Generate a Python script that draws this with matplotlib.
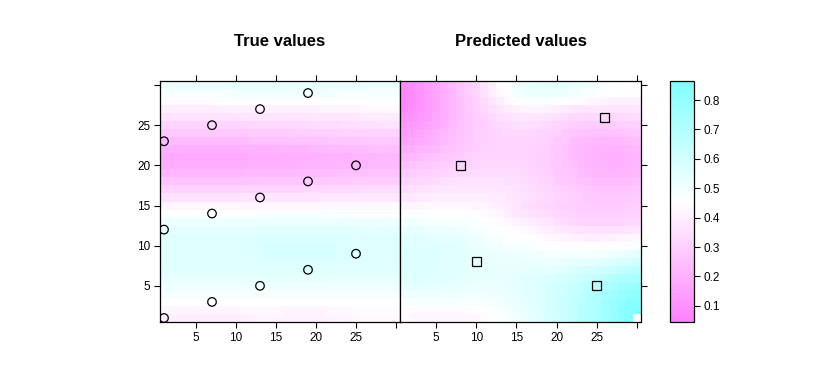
import numpy as np
import matplotlib
matplotlib.use("Agg")
import matplotlib.pyplot as plt
from matplotlib.colors import LinearSegmentedColormap

plt.rcParams['font.family'] = ['Liberation Sans', 'DejaVu Sans']

# grid cells 1..30 in x and y
grid_x = np.arange(1, 31)
grid_y = np.arange(1, 31)

# true values, rows listed from y=30 (top) down to y=1
true_rows = [
    [0.52,0.52,0.52,0.52,0.52,0.52,0.52,0.52,0.53,0.53,0.53,0.53,0.53,0.53,0.53,0.53,0.53,0.53,0.53,0.53,0.53,0.52,0.52,0.52,0.52,0.52,0.51,0.51,0.51,0.51],
    [0.49,0.49,0.49,0.49,0.49,0.49,0.49,0.49,0.49,0.50,0.50,0.50,0.50,0.50,0.50,0.50,0.50,0.50,0.50,0.50,0.50,0.50,0.49,0.49,0.49,0.49,0.49,0.49,0.49,0.49],
    [0.44,0.44,0.44,0.44,0.44,0.44,0.44,0.45,0.45,0.45,0.45,0.45,0.45,0.45,0.45,0.45,0.45,0.45,0.45,0.45,0.46,0.46,0.46,0.46,0.46,0.46,0.47,0.47,0.47,0.47],
    [0.40,0.40,0.40,0.40,0.40,0.40,0.40,0.40,0.40,0.41,0.41,0.41,0.41,0.41,0.41,0.41,0.41,0.41,0.41,0.41,0.42,0.42,0.42,0.42,0.42,0.43,0.43,0.43,0.43,0.43],
    [0.36,0.36,0.36,0.36,0.36,0.36,0.36,0.36,0.36,0.36,0.37,0.37,0.37,0.37,0.37,0.37,0.37,0.37,0.37,0.38,0.38,0.38,0.38,0.38,0.38,0.39,0.39,0.39,0.39,0.39],
    [0.32,0.32,0.32,0.32,0.32,0.32,0.32,0.32,0.32,0.32,0.32,0.33,0.33,0.33,0.33,0.33,0.33,0.33,0.34,0.34,0.34,0.34,0.34,0.35,0.35,0.35,0.35,0.36,0.36,0.36],
    [0.28,0.28,0.28,0.28,0.28,0.28,0.28,0.28,0.28,0.28,0.28,0.29,0.29,0.29,0.29,0.29,0.29,0.30,0.30,0.30,0.30,0.30,0.31,0.31,0.31,0.31,0.32,0.32,0.32,0.32],
    [0.24,0.24,0.24,0.24,0.24,0.24,0.24,0.24,0.24,0.24,0.24,0.25,0.25,0.25,0.25,0.25,0.26,0.26,0.26,0.26,0.26,0.27,0.27,0.27,0.27,0.28,0.28,0.28,0.28,0.28],
    [0.20,0.20,0.20,0.20,0.20,0.20,0.20,0.20,0.20,0.20,0.20,0.21,0.21,0.21,0.21,0.22,0.22,0.22,0.22,0.23,0.23,0.23,0.23,0.24,0.24,0.24,0.25,0.25,0.25,0.25],
    [0.18,0.18,0.18,0.18,0.18,0.18,0.18,0.18,0.18,0.18,0.18,0.19,0.19,0.19,0.19,0.19,0.20,0.20,0.20,0.20,0.21,0.21,0.21,0.21,0.22,0.22,0.22,0.23,0.23,0.23],
    [0.19,0.19,0.19,0.19,0.19,0.19,0.19,0.19,0.19,0.19,0.19,0.20,0.20,0.20,0.20,0.20,0.20,0.21,0.21,0.21,0.21,0.21,0.22,0.22,0.22,0.22,0.23,0.23,0.23,0.23],
    [0.22,0.22,0.22,0.22,0.22,0.22,0.22,0.22,0.22,0.22,0.22,0.23,0.23,0.23,0.23,0.23,0.23,0.24,0.24,0.24,0.24,0.24,0.25,0.25,0.25,0.25,0.26,0.26,0.26,0.26],
    [0.26,0.26,0.26,0.26,0.26,0.26,0.26,0.26,0.26,0.26,0.26,0.27,0.27,0.27,0.27,0.27,0.27,0.27,0.28,0.28,0.28,0.28,0.28,0.28,0.29,0.29,0.29,0.29,0.29,0.29],
    [0.31,0.31,0.31,0.31,0.31,0.31,0.31,0.31,0.31,0.31,0.32,0.32,0.32,0.32,0.32,0.32,0.32,0.32,0.33,0.33,0.33,0.33,0.33,0.33,0.33,0.34,0.34,0.34,0.34,0.34],
    [0.36,0.36,0.36,0.36,0.36,0.36,0.36,0.36,0.36,0.36,0.37,0.37,0.37,0.37,0.37,0.37,0.37,0.37,0.37,0.37,0.38,0.38,0.38,0.38,0.38,0.38,0.38,0.38,0.38,0.38],
    [0.42,0.42,0.42,0.42,0.42,0.42,0.42,0.42,0.42,0.42,0.42,0.42,0.42,0.42,0.42,0.42,0.42,0.42,0.42,0.42,0.43,0.43,0.43,0.43,0.43,0.43,0.43,0.43,0.43,0.43],
    [0.47,0.47,0.47,0.47,0.47,0.47,0.47,0.47,0.47,0.47,0.47,0.47,0.48,0.48,0.48,0.48,0.48,0.48,0.48,0.48,0.48,0.48,0.47,0.47,0.47,0.47,0.47,0.47,0.47,0.47],
    [0.51,0.51,0.51,0.51,0.51,0.51,0.51,0.51,0.51,0.51,0.51,0.51,0.52,0.52,0.52,0.52,0.52,0.52,0.52,0.52,0.52,0.52,0.52,0.51,0.51,0.51,0.51,0.51,0.51,0.51],
    [0.54,0.54,0.54,0.54,0.54,0.54,0.54,0.54,0.54,0.54,0.54,0.54,0.55,0.55,0.55,0.55,0.55,0.55,0.55,0.55,0.55,0.55,0.55,0.55,0.55,0.54,0.54,0.54,0.54,0.54],
    [0.56,0.56,0.56,0.56,0.56,0.56,0.56,0.56,0.56,0.56,0.56,0.56,0.57,0.57,0.57,0.57,0.57,0.57,0.57,0.57,0.57,0.57,0.57,0.57,0.56,0.56,0.56,0.56,0.56,0.56],
    [0.56,0.56,0.56,0.56,0.56,0.56,0.56,0.56,0.56,0.56,0.57,0.57,0.57,0.58,0.58,0.58,0.58,0.58,0.58,0.58,0.58,0.58,0.57,0.57,0.57,0.56,0.56,0.56,0.56,0.56],
    [0.56,0.56,0.56,0.56,0.56,0.56,0.56,0.56,0.56,0.56,0.57,0.57,0.57,0.58,0.58,0.58,0.58,0.58,0.58,0.58,0.58,0.58,0.57,0.57,0.57,0.56,0.56,0.56,0.56,0.56],
    [0.56,0.56,0.56,0.56,0.56,0.56,0.56,0.56,0.56,0.56,0.56,0.56,0.57,0.57,0.57,0.57,0.57,0.57,0.57,0.57,0.57,0.57,0.57,0.56,0.56,0.56,0.56,0.56,0.56,0.56],
    [0.55,0.55,0.55,0.55,0.55,0.55,0.55,0.55,0.55,0.55,0.55,0.55,0.56,0.56,0.56,0.56,0.56,0.56,0.56,0.56,0.56,0.56,0.55,0.55,0.55,0.55,0.55,0.55,0.55,0.55],
    [0.53,0.53,0.53,0.53,0.53,0.53,0.53,0.53,0.53,0.53,0.53,0.53,0.54,0.54,0.54,0.54,0.54,0.54,0.54,0.54,0.54,0.53,0.53,0.53,0.53,0.53,0.53,0.53,0.53,0.53],
    [0.51,0.51,0.51,0.51,0.51,0.51,0.51,0.51,0.51,0.51,0.51,0.51,0.51,0.51,0.51,0.51,0.51,0.51,0.51,0.51,0.51,0.51,0.51,0.51,0.51,0.51,0.51,0.51,0.51,0.51],
    [0.49,0.49,0.49,0.49,0.49,0.49,0.49,0.49,0.49,0.49,0.49,0.49,0.49,0.49,0.49,0.49,0.49,0.49,0.49,0.49,0.49,0.49,0.49,0.49,0.49,0.49,0.49,0.49,0.49,0.49],
    [0.46,0.46,0.46,0.46,0.46,0.46,0.46,0.46,0.46,0.46,0.46,0.46,0.46,0.46,0.46,0.46,0.46,0.46,0.46,0.46,0.46,0.46,0.46,0.46,0.46,0.46,0.46,0.46,0.46,0.46],
    [0.42,0.42,0.42,0.42,0.42,0.42,0.42,0.42,0.42,0.42,0.43,0.43,0.43,0.43,0.43,0.42,0.42,0.42,0.42,0.42,0.42,0.43,0.43,0.43,0.44,0.44,0.44,0.44,0.44,0.44],
    [0.40,0.40,0.40,0.40,0.40,0.40,0.40,0.40,0.40,0.40,0.41,0.41,0.42,0.42,0.42,0.41,0.41,0.41,0.41,0.41,0.41,0.42,0.42,0.42,0.43,0.43,0.43,0.43,0.43,0.43],
]

# predicted values, rows from y=30 down to y=1 (nan = no value)
pred_rows = [
    [0.08,0.09,0.11,0.14,0.17,0.20,0.23,0.26,0.29,0.32,0.36,0.40,0.44,0.47,0.50,0.52,0.53,0.54,0.54,0.54,0.53,0.52,0.51,0.50,0.49,0.48,0.47,0.47,0.46,0.46],
    [0.07,0.08,0.10,0.13,0.16,0.19,0.22,0.26,0.29,0.32,0.36,0.40,0.43,0.46,0.49,0.51,0.52,0.52,0.52,0.52,0.51,0.50,0.49,0.48,0.47,0.46,0.46,0.45,0.45,0.45],
    [0.07,0.08,0.10,0.13,0.16,0.19,0.22,0.25,0.28,0.31,0.34,0.37,0.40,0.43,0.45,0.47,0.48,0.48,0.48,0.47,0.46,0.45,0.44,0.43,0.42,0.42,0.41,0.41,0.41,0.41],
    [0.08,0.09,0.11,0.13,0.16,0.19,0.22,0.25,0.28,0.30,0.33,0.35,0.37,0.39,0.41,0.42,0.42,0.42,0.41,0.40,0.39,0.38,0.37,0.37,0.37,0.37,0.37,0.37,0.37,0.38],
    [0.10,0.11,0.12,0.14,0.17,0.19,0.22,0.25,0.27,0.29,0.31,0.33,0.35,0.36,0.37,0.38,0.38,0.37,0.36,0.35,0.34,0.33,0.33,0.33,0.33,0.33,0.33,0.33,0.34,0.34],
    [0.12,0.13,0.14,0.16,0.18,0.20,0.23,0.25,0.27,0.29,0.30,0.32,0.33,0.34,0.35,0.35,0.35,0.34,0.33,0.32,0.31,0.30,0.29,0.29,0.29,0.29,0.29,0.30,0.30,0.31],
    [0.14,0.15,0.16,0.18,0.20,0.22,0.24,0.26,0.27,0.29,0.30,0.31,0.32,0.33,0.33,0.33,0.33,0.32,0.31,0.30,0.28,0.27,0.26,0.26,0.25,0.25,0.26,0.26,0.27,0.28],
    [0.16,0.17,0.18,0.19,0.21,0.23,0.25,0.26,0.28,0.29,0.30,0.31,0.32,0.32,0.32,0.32,0.32,0.31,0.30,0.28,0.27,0.25,0.24,0.23,0.23,0.22,0.23,0.23,0.24,0.25],
    [0.19,0.20,0.21,0.22,0.23,0.25,0.26,0.27,0.29,0.30,0.31,0.31,0.32,0.32,0.32,0.32,0.31,0.30,0.29,0.28,0.26,0.24,0.23,0.22,0.21,0.21,0.21,0.21,0.22,0.23],
    [0.22,0.23,0.24,0.25,0.26,0.27,0.28,0.29,0.30,0.31,0.32,0.32,0.32,0.32,0.32,0.32,0.31,0.30,0.29,0.27,0.26,0.24,0.23,0.22,0.21,0.20,0.20,0.20,0.21,0.22],
    [0.25,0.26,0.27,0.28,0.29,0.30,0.30,0.31,0.32,0.32,0.33,0.33,0.33,0.33,0.33,0.32,0.31,0.30,0.29,0.28,0.26,0.25,0.23,0.22,0.21,0.21,0.20,0.21,0.21,0.22],
    [0.28,0.29,0.30,0.31,0.31,0.32,0.33,0.33,0.34,0.34,0.34,0.34,0.34,0.34,0.34,0.33,0.32,0.31,0.30,0.28,0.27,0.26,0.24,0.23,0.22,0.22,0.22,0.22,0.22,0.23],
    [0.31,0.32,0.33,0.33,0.34,0.35,0.35,0.36,0.36,0.36,0.36,0.36,0.36,0.35,0.35,0.34,0.33,0.32,0.31,0.29,0.28,0.27,0.26,0.25,0.24,0.24,0.24,0.24,0.24,0.25],
    [0.34,0.35,0.36,0.36,0.37,0.37,0.38,0.38,0.38,0.38,0.38,0.38,0.37,0.37,0.36,0.35,0.34,0.33,0.32,0.31,0.30,0.29,0.28,0.27,0.26,0.26,0.26,0.26,0.26,0.27],
    [0.38,0.38,0.39,0.39,0.40,0.40,0.40,0.40,0.40,0.40,0.40,0.39,0.39,0.38,0.37,0.36,0.35,0.34,0.33,0.32,0.31,0.30,0.29,0.28,0.28,0.28,0.28,0.28,0.28,0.29],
    [0.42,0.42,0.42,0.43,0.43,0.43,0.43,0.43,0.43,0.42,0.42,0.41,0.40,0.39,0.37,0.35,0.34,0.33,0.32,0.31,0.30,0.30,0.29,0.29,0.29,0.29,0.29,0.29,0.30,0.30],
    [0.46,0.46,0.46,0.46,0.46,0.46,0.46,0.46,0.45,0.45,0.44,0.43,0.42,0.40,0.38,0.37,0.36,0.35,0.34,0.33,0.32,0.31,0.30,0.30,0.30,0.30,0.30,0.30,0.31,0.31],
    [0.50,0.50,0.50,0.49,0.49,0.49,0.49,0.48,0.48,0.47,0.46,0.45,0.44,0.43,0.41,0.40,0.39,0.38,0.37,0.35,0.34,0.33,0.32,0.32,0.32,0.32,0.32,0.32,0.33,0.33],
    [0.53,0.53,0.53,0.52,0.52,0.52,0.51,0.51,0.50,0.49,0.48,0.47,0.46,0.45,0.44,0.43,0.42,0.41,0.40,0.39,0.38,0.37,0.36,0.36,0.36,0.36,0.36,0.36,0.37,0.37],
    [0.55,0.55,0.55,0.55,0.54,0.54,0.53,0.53,0.52,0.51,0.50,0.49,0.48,0.47,0.47,0.46,0.45,0.44,0.43,0.42,0.42,0.41,0.41,0.40,0.40,0.41,0.41,0.42,0.42,0.43],
    [0.56,0.56,0.56,0.56,0.56,0.55,0.55,0.54,0.53,0.52,0.51,0.50,0.50,0.49,0.49,0.48,0.48,0.47,0.46,0.46,0.45,0.45,0.45,0.45,0.45,0.45,0.46,0.47,0.47,0.48],
    [0.57,0.57,0.57,0.57,0.57,0.56,0.56,0.55,0.54,0.53,0.52,0.52,0.51,0.51,0.51,0.50,0.50,0.50,0.49,0.49,0.49,0.49,0.49,0.49,0.50,0.50,0.51,0.52,0.53,0.54],
    [0.57,0.57,0.57,0.57,0.57,0.56,0.56,0.55,0.54,0.54,0.53,0.53,0.52,0.52,0.52,0.52,0.52,0.52,0.52,0.52,0.52,0.53,0.53,0.54,0.55,0.56,0.57,0.58,0.59,0.60],
    [0.57,0.57,0.57,0.57,0.56,0.56,0.55,0.55,0.54,0.54,0.53,0.53,0.53,0.53,0.53,0.53,0.54,0.54,0.54,0.55,0.56,0.57,0.58,0.59,0.60,0.62,0.63,0.65,0.66,0.67],
    [0.56,0.56,0.56,0.56,0.55,0.55,0.55,0.54,0.54,0.53,0.53,0.53,0.53,0.53,0.54,0.55,0.55,0.56,0.57,0.58,0.59,0.60,0.62,0.63,0.65,0.67,0.69,0.71,0.72,0.73],
    [0.54,0.54,0.54,0.54,0.54,0.53,0.53,0.53,0.52,0.52,0.52,0.52,0.52,0.53,0.54,0.55,0.56,0.57,0.58,0.60,0.61,0.63,0.65,0.67,0.69,0.71,0.73,0.75,0.77,0.78],
    [0.51,0.51,0.51,0.51,0.51,0.51,0.51,0.50,0.50,0.50,0.50,0.51,0.51,0.52,0.53,0.55,0.56,0.57,0.59,0.61,0.62,0.64,0.66,0.69,0.71,0.74,0.76,0.79,0.81,0.82],
    [0.48,0.48,0.48,0.48,0.48,0.48,0.48,0.48,0.48,0.48,0.48,0.49,0.50,0.51,0.52,0.54,0.55,0.57,0.59,0.61,0.63,0.65,0.67,0.70,0.72,0.75,0.78,0.80,0.83,0.84],
    [0.45,0.44,0.44,0.44,0.44,0.44,0.44,0.44,0.44,0.45,0.45,0.46,0.48,0.49,0.51,0.53,0.55,0.57,0.59,0.61,0.63,0.65,0.68,0.70,0.73,0.76,0.79,0.82,0.84,0.86],
    [0.44,0.42,0.42,0.42,0.42,0.42,0.42,0.42,0.42,0.43,0.44,0.45,0.47,0.48,0.50,0.52,0.54,0.56,0.58,0.61,0.63,0.65,0.68,0.70,0.73,0.76,0.79,0.82,0.85,np.nan],
]

# sample locations
true_pts_x = [1, 7, 13, 19, 25, 1, 7, 13, 19, 25, 1, 7, 13, 19]
true_pts_y = [1, 3, 5, 7, 9, 12, 14, 16, 18, 20, 23, 25, 27, 29]
pred_pts_x = [8, 10, 25, 26]
pred_pts_y = [20, 8, 5, 26]

panel_titles = ["True values", "Predicted values"]
z_min, z_max = 0.045, 0.865
cbar_ticks = [0.1, 0.2, 0.3, 0.4, 0.5, 0.6, 0.7, 0.8]

cmap = LinearSegmentedColormap.from_list("cm_rev", ["#FF80FF", "#FFFFFF", "#80FFFF"])

W, H = 830, 381
fig = plt.figure(figsize=(W / 100, H / 100), dpi=100)

def px_axes(x0, y0, x1, y1):
    return fig.add_axes([x0 / W, 1 - y1 / H, (x1 - x0) / W, (y1 - y0) / H])

ax1 = px_axes(160, 81, 400, 322)
ax2 = px_axes(400, 81, 641, 322)
cax = px_axes(670, 81, 694, 322)

edges_x = np.append(grid_x - 0.5, grid_x[-1] + 0.5)
edges_y = np.append(grid_y - 0.5, grid_y[-1] + 0.5)

fields = [np.array(true_rows)[::-1], np.ma.masked_invalid(np.array(pred_rows)[::-1])]
for ax, field in zip([ax1, ax2], fields):
    mesh = ax.pcolormesh(edges_x, edges_y, field, cmap=cmap, vmin=z_min, vmax=z_max,
                         shading='flat', linewidth=0, antialiased=False)
    ax.set_xlim(0.5, 30.5)
    ax.set_ylim(0.5, 30.5)
    ax.set_xticks([5, 10, 15, 20, 25, 30])
    ax.set_xticklabels(['5', '10', '15', '20', '25', ''])
    ax.set_yticks([5, 10, 15, 20, 25, 30])
    ax.tick_params(direction='out', length=4.5, width=0.8, labelsize=8.5, pad=2.5)
    for s in ax.spines.values():
        s.set_linewidth(0.9)

ax1.tick_params(top=True, right=False, left=True, bottom=True)
ax1.set_yticklabels(['5', '10', '15', '20', '25', ''])
ax2.tick_params(top=True, right=True, left=False, bottom=True, labelleft=False)

ax1.scatter(true_pts_x, true_pts_y, s=38, marker='o', facecolors='none',
            edgecolors='black', linewidths=0.9, zorder=3)
ax2.scatter(pred_pts_x, pred_pts_y, s=42, marker='s', facecolors='none',
            edgecolors='black', linewidths=0.9, zorder=3)

for ax, title in zip([ax1, ax2], panel_titles):
    fig.text((ax.get_position().x0 + ax.get_position().x1) / 2, 1 - 41 / H, title,
             ha='center', va='center', fontsize=12, fontweight='bold')

cb = fig.colorbar(mesh, cax=cax, ticks=cbar_ticks)
cb.ax.tick_params(direction='out', length=4.5, width=0.8, labelsize=8.5, pad=2.5)
cb.outline.set_linewidth(0.9)

fig.savefig("out.png", dpi=100)
